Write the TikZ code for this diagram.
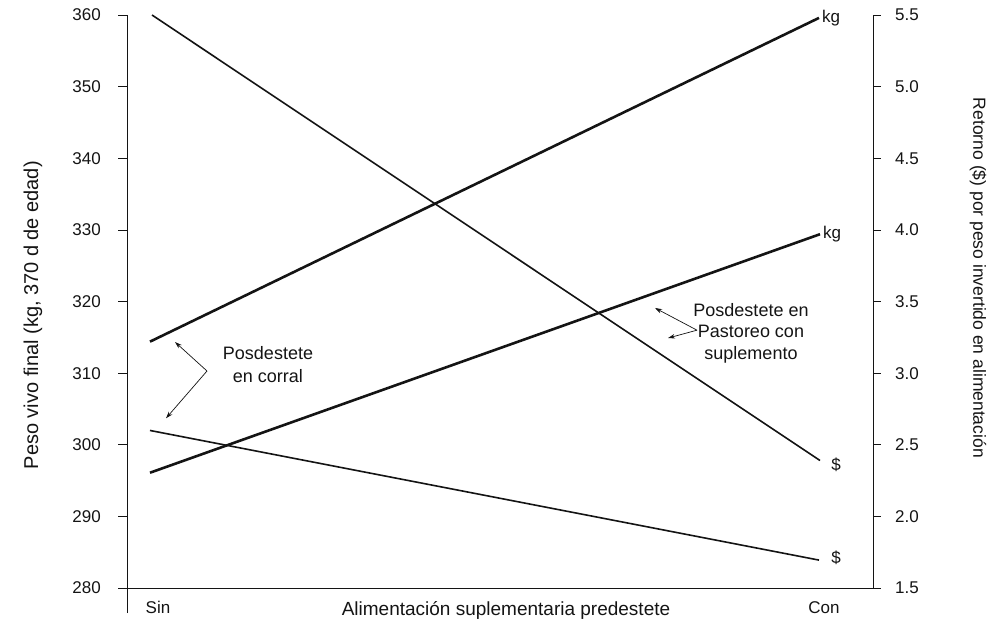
\documentclass[tikz,border=0pt]{standalone}
\usepackage{fontspec}
\setmainfont{Liberation Sans}
\usepackage{tikz}
\usetikzlibrary{arrows.meta}
\definecolor{inkGray}{RGB}{20, 20, 20}

\begin{document}
\begin{tikzpicture}[x=1pt, y=7.1625pt, inkGray,
    thinLine/.style={line width=1.6pt},
    thickLine/.style={line width=2.6pt},
    pointer/.style={line width=0.7pt, -{Stealth[length=7pt, width=4.5pt]}},
    tickLab/.style={inner sep=0pt, font=\fontsize{17}{20}\selectfont},
    noteText/.style={align=center, font=\fontsize{18}{23}\selectfont}]
    \useasboundingbox (0,82.1) rectangle (988,-5.45);
    % ejes
    \draw[line width=0.8pt] (127,-3.5) -- (127,80);
    \draw[line width=0.8pt] (127,0) -- (873,0);
    \draw[line width=0.8pt] (873,0) -- (873,80);
    \foreach \v/\r/\yy in {280/1.5/0,290/2.0/10,300/2.5/20,310/3.0/30,320/3.5/40,330/4.0/50,340/4.5/60,350/5.0/70,360/5.5/80} {
        \draw[line width=0.8pt] (118,\yy) -- (127,\yy);
        \draw[line width=0.8pt] (873,\yy) -- (881,\yy);
        \node[tickLab, anchor=east] at (101,\yy) {\v};
        \node[tickLab, anchor=west] at (895,\yy) {\r};
    }
    \node[tickLab] (sinLab) at (158,-2.65) {Sin};
    \node[tickLab] (conLab) at (824,-2.8) {Con};
    \node[font=\fontsize{19}{22}\selectfont] (xTitle) at (506,-3.07) {Alimentación suplementaria predestete};
    \node[rotate=90, font=\fontsize{20}{23}\selectfont] (yLeft) at (33,38.1) {Peso vivo final (kg, 370 d de edad)};
    \node[rotate=-90, font=\fontsize{17.5}{21}\selectfont] (yRight) at (978,43.3) {Retorno (\$) por peso invertido en alimentación};

    % rectas
    \coordinate (sinRetA) at (152,80);
    \coordinate (conRetA) at (820,17.8);
    \coordinate (sinKgA) at (150,34.4);
    \coordinate (conKgA) at (819,79.6);
    \coordinate (sinKgB) at (150,16.1);
    \coordinate (conKgB) at (820,49.4);
    \coordinate (sinRetB) at (150,22);
    \coordinate (conRetB) at (819,3.9);
    \draw[thinLine] (sinRetA) -- (conRetA);
    \draw[thickLine] (sinKgA) -- (conKgA);
    \draw[thickLine] (sinKgB) -- (conKgB);
    \draw[thinLine] (sinRetB) -- (conRetB);
    \node[tickLab, anchor=west, inner sep=3pt] (kgA) at (conKgA) {kg};
    \node[tickLab, anchor=west, inner sep=3pt] (kgB) at (conKgB) {kg};
    \node[tickLab] (retA) at (836,17.2) {\$};
    \node[tickLab] (retB) at (836,4.2) {\$};

    % notas
    \node[noteText] (corral) at (268,31.2) {Posdestete\\en corral};
    \coordinate (corralV) at (207,30.3);
    \coordinate (corralUp) at (175,34.35);
    \coordinate (corralDn) at (166,23.7);
    \draw[pointer] (corralV) -- (corralUp);
    \draw[pointer] (corralV) -- (corralDn);
    \node[noteText, font=\fontsize{18}{21.7}\selectfont] (pastoreo) at (751,35.6) {Posdestete en\\Pastoreo con\\suplemento};
    \coordinate (pastoreoV) at (697,36.0);
    \coordinate (pastoreoUp) at (655,39.1);
    \coordinate (pastoreoDn) at (668,34.9);
    \draw[pointer] (pastoreoV) -- (pastoreoUp);
    \draw[pointer] (pastoreoV) -- (pastoreoDn);
\end{tikzpicture}
\end{document}
